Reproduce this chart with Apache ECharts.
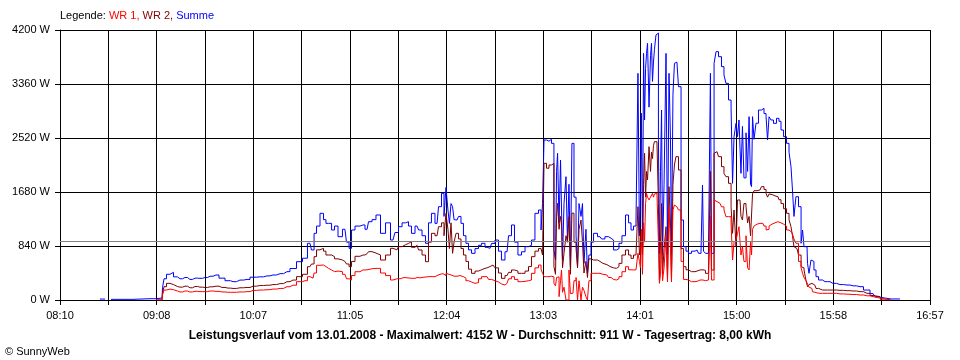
<!DOCTYPE html>
<html>
<head>
<meta charset="utf-8">
<script src="https://cdn.jsdelivr.net/npm/echarts@6/dist/echarts.min.js"></script>
<style>
html,body{margin:0;padding:0;background:#fff;}
#c{width:960px;height:360px;}
</style>
</head>
<body>
<div id="c"></div>
<script>
// Axis range (minutes of day): 08:10 .. 16:57
const timeStart = 490;
const timeEnd = 1017;
const tickLabels = ["08:10","09:08","10:07","11:05","12:04","13:03","14:01","15:00","15:58","16:57"];
const avgValue = 911;
const titleText = "Leistungsverlauf vom 13.01.2008 - Maximalwert: 4152 W - Durchschnitt: 911 W - Tagesertrag: 8,00 kWh";

// Sample times (minutes of day)
const times = [
514.2,517.3,517.9,523.9,544.5,551.8,552.4,553.6,555.4,557.8,559.7,562.7,565.7,568.7,571.8,574.8,577.8,580.9,584.5,588.1,
591.8,594.8,599.0,603.3,606.9,611.1,615.4,619.0,623.3,627.5,631.1,635.4,638.4,641.4,643.3,644.5,646.3,648.7,650.5,651.7,
653.6,655.4,657.2,659.6,662.6,664.5,665.7,667.5,669.9,673.5,676.0,677.8,680.2,682.6,685.7,688.7,691.7,694.1,696.0,698.4,
700.2,702.0,703.8,706.3,708.1,710.5,712.3,714.1,715.9,718.4,720.2,722.0,723.2,724.4,725.6,726.2,727.5,728.1,729.3,730.5,
732.3,733.5,735.3,736.5,738.4,740.2,742.6,744.4,746.2,748.7,750.5,752.3,754.7,756.5,758.3,760.8,762.6,764.4,766.2,768.6,
770.5,772.9,774.7,776.5,778.9,780.8,782.0,782.6,783.8,785.6,786.8,788.6,789.8,790.5,791.1,791.7,792.9,793.5,794.1,794.7,
795.9,797.1,797.7,798.9,799.5,800.7,802.0,803.2,803.8,805.0,806.2,806.8,808.0,809.2,809.8,811.0,812.3,814.1,817.1,818.9,
821.3,823.2,824.4,826.2,828.0,829.2,831.6,833.5,835.3,836.5,838.3,839.5,840.7,841.3,841.9,842.5,843.2,843.8,844.4,845.0,
845.6,846.2,847.4,848.0,848.6,849.2,849.8,850.4,851.6,852.2,852.8,853.4,854.1,854.7,855.3,856.5,857.7,858.3,859.5,860.1,
860.7,861.9,862.5,863.7,865.6,866.8,868.6,869.8,871.6,873.4,875.9,877.7,878.9,879.5,880.1,881.9,883.7,884.3,885.0,885.6,
886.8,888.0,889.8,891.6,892.8,894.0,895.9,897.1,897.7,898.9,900.1,900.7,901.9,903.1,903.7,904.9,906.2,906.8,908.0,908.6,
909.2,909.8,911.0,912.2,914.0,915.8,917.1,918.3,918.9,920.1,921.3,923.1,924.9,926.1,927.4,929.2,931.0,932.2,933.4,934.0,
935.2,936.4,938.3,939.5,940.1,941.3,942.5,943.1,944.3,945.5,946.1,947.3,948.6,950.4,953.4,956.4,958.2,962.5,966.7,970.4,
974.6,978.8,982.5,984.9,986.7,987.9,998.8
];

// Summe (W)
const summe = [
15,15,null,10,20,30,190,330,400,430,360,330,350,320,340,337,350,370,389,340,
300,285,310,320,355,360,375,389,410,441,490,596,650,882,778,1037,1150,1348,1250,1192,
1192,1089,1150,985,1100,900,804,1089,1150,1167,1100,1218,1250,1322,1037,1200,933,1050,1140,1200,
1218,1150,1037,1150,1089,1000,882,1200,1348,1192,1452,1659,1300,1750,1400,1192,1500,1452,1250,1244,
1300,1192,1000,882,780,726,800,850,882,820,804,880,933,760,622,750,1000,1167,900,700,
750,830,850,933,1348,1400,1089,1504,2489,2470,2500,2437,778,622,2000,2282,1200,2178,2178,622,
1500,1918,900,1800,518,2437,1600,1000,518,1500,1300,1500,570,1100,415,700,900,1037,985,950,
985,960,933,778,800,882,1000,1322,1200,1089,1150,1192,3526,1000,1500,2904,800,3837,2800,3600,
3837,3993,3000,3800,3993,3400,3700,3900,4122,4152,2500,726,2000,2955,700,1800,3837,700,3526,2500,
700,3200,3682,3700,3318,1244,830,760,726,760,778,726,760,1789,760,726,726,3526,726,726,
3682,3863,3785,3630,3500,3370,3111,3000,1815,2541,2748,2541,2800,1970,2700,1900,2600,2000,2852,1800,
1763,2852,2500,2750,2955,2981,2900,2852,2489,2850,2800,2748,2826,2780,2644,2541,2437,2300,2074,1711,
1300,1607,1452,882,1089,830,830,570,415,622,600,467,363,311,285,285,259,240,233,220,
207,155,100,52,40,16,16
];

// WR 2 (W)
const wr2 = [
null,null,null,null,null,0,100,207,259,240,210,200,215,190,210,200,195,205,215,195,
185,180,190,195,215,225,230,240,255,285,310,363,400,518,560,674,780,804,760,700,
700,674,640,622,600,560,518,600,680,700,720,752,730,700,622,700,804,780,830,860,
880,907,820,850,778,700,596,900,1037,1000,1140,1200,1000,1348,1100,800,1200,726,900,1037,
950,800,700,600,480,415,450,470,492,500,520,544,500,420,337,380,430,467,450,415,
415,450,520,674,760,800,830,700,2126,2050,2100,2126,518,400,1300,1504,1100,1300,1200,500,
726,1000,900,1296,400,1350,900,800,500,1100,1244,900,420,600,350,640,622,622,600,570,
550,520,500,492,520,570,700,778,700,648,700,726,1452,700,800,1000,700,1800,2282,1600,
2000,1867,2385,2000,2300,2200,2400,2463,2463,2463,1500,311,900,1500,400,800,1140,350,1763,1200,
350,1800,2100,2230,2022,800,518,470,441,440,450,467,467,470,460,415,467,2000,467,467,
2282,2307,2230,2074,1970,1918,1815,1452,1037,1400,830,1556,1556,1300,1244,1500,1452,1200,1300,1000,
1000,1650,1700,1700,1711,1763,1720,1659,1600,1650,1640,1620,1607,1560,1500,1420,1348,1250,1140,1000,
830,800,700,518,500,467,300,207,240,259,250,230,180,155,155,155,155,150,145,140,
130,104,70,60,52,0,null
];

// WR 1 (W)
const wr1 = [
null,null,null,null,null,0,80,155,170,160,140,125,140,125,135,130,130,140,135,125,
120,120,125,130,150,155,160,170,180,207,230,285,300,363,340,420,540,544,520,492,
467,441,450,441,400,330,311,380,440,467,470,480,490,492,420,380,311,330,330,350,
345,340,337,350,345,355,360,365,363,380,400,410,380,415,400,390,380,370,380,370,
380,363,340,300,280,259,270,330,363,363,320,300,280,250,233,260,330,363,320,285,
290,300,311,415,500,544,480,415,363,363,370,360,260,220,350,360,52,300,467,120,
200,0,0,467,100,104,300,350,0,300,0,200,150,50,0,300,415,415,415,400,
389,350,320,311,330,363,440,518,470,467,470,467,726,600,500,1100,400,1200,900,1500,
1659,1600,1556,1600,1600,1659,1600,1650,1659,1659,900,259,400,900,300,500,1000,280,1452,800,
280,1400,1478,1450,1400,600,320,311,285,285,290,311,311,311,300,311,311,1300,311,311,
1556,1530,1504,1450,1400,1296,1296,1200,622,900,933,1037,1140,700,830,600,1000,500,467,900,
700,1100,1150,1180,1192,1192,1150,1089,1100,1150,1180,1200,1218,1200,1180,1150,1089,1060,1050,1037,
950,882,600,500,415,350,300,250,200,180,129,120,110,104,104,104,104,95,90,85,
78,65,52,40,30,0,null
];

const unit = (timeEnd - timeStart) / 18;
function toPairs(vals) {
  return times.map((t, i) => [(t - timeStart) / unit, vals[i]]);
}

const FONT = 'Liberation Sans, Arial, sans-serif';
const chart = echarts.init(document.getElementById('c'), null, {renderer: 'canvas'});
const lineBase = {
  type: 'line', showSymbol: false, symbol: 'none', step: 'middle',
  connectNulls: false, animation: false, silent: true
};
chart.setOption({
  animation: false,
  backgroundColor: '#ffffff',
  textStyle: {fontFamily: FONT},
  title: [
    {
      text: '{k|Legende: }{a|WR 1, }{b|WR 2, }{c|Summe}',
      left: 60, top: 10, padding: 0,
      textStyle: {
        fontSize: 11, fontWeight: 'normal', fontFamily: FONT,
        rich: {
          k: {color: '#000000', fontSize: 11, fontFamily: FONT},
          a: {color: '#ff0000', fontSize: 11, fontFamily: FONT},
          b: {color: '#800000', fontSize: 11, fontFamily: FONT},
          c: {color: '#0000ff', fontSize: 11, fontFamily: FONT}
        }
      }
    },
    {
      text: titleText,
      left: 'center', top: 330, padding: 0,
      textStyle: {fontSize: 12, fontWeight: 'bold', color: '#000', fontFamily: FONT}
    },
    {
      text: '\u00a9 SunnyWeb',
      left: 5, top: 346, padding: 0,
      textStyle: {fontSize: 11, fontWeight: 'normal', color: '#000', fontFamily: FONT}
    }
  ],
  grid: {left: 60, right: 30, top: 30, bottom: 60, containLabel: false},
  xAxis: {
    type: 'value', min: 0, max: 18, interval: 1,
    axisLine: {show: true, onZero: false, lineStyle: {color: '#000', width: 1}},
    axisTick: {show: true, length: 5, inside: false, lineStyle: {color: '#000', width: 1}},
    splitLine: {show: true, lineStyle: {color: '#000', width: 1}},
    axisLabel: {
      show: true, margin: 10, color: '#000', fontSize: 11, fontFamily: FONT,
      showMinLabel: true, showMaxLabel: true,
      formatter: function (v) {
        const r = Math.round(v);
        return (r % 2 === 0) ? (tickLabels[r / 2] || '') : '';
      }
    }
  },
  yAxis: {
    type: 'value', min: 0, max: 4200, interval: 840,
    axisLine: {show: true, lineStyle: {color: '#000', width: 1}},
    axisTick: {show: true, length: 5, lineStyle: {color: '#000', width: 1}},
    splitLine: {show: true, lineStyle: {color: '#000', width: 1}},
    axisLabel: {
      show: true, margin: 10, color: '#000', fontSize: 11, fontFamily: FONT,
      formatter: function (v) { return String(v) + ' W'; }
    }
  },
  series: [
    Object.assign({}, lineBase, {
      name: 'Summe', data: toPairs(summe), z: 2,
      lineStyle: {color: '#0000ff', width: 1}, itemStyle: {color: '#0000ff'},
      markLine: {
        silent: true, symbol: ['none', 'none'], animation: false,
        label: {show: false},
        lineStyle: {color: '#808080', width: 1, type: 'solid'},
        data: [{yAxis: avgValue}]
      }
    }),
    Object.assign({}, lineBase, {
      name: 'WR 2', data: toPairs(wr2), z: 3,
      lineStyle: {color: '#800000', width: 1}, itemStyle: {color: '#800000'}
    }),
    Object.assign({}, lineBase, {
      name: 'WR 1', data: toPairs(wr1), z: 4,
      lineStyle: {color: '#ff0000', width: 1}, itemStyle: {color: '#ff0000'}
    })
  ]
});
</script>
</body>
</html>
